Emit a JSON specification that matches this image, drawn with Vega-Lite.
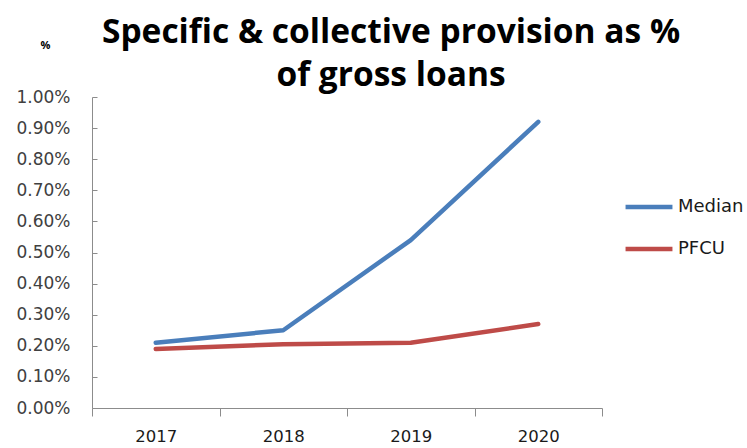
{
  "$schema": "https://vega.github.io/schema/vega-lite/v6.json",
  "autosize": "none",
  "width": 510,
  "height": 311,
  "padding": {"left": 92, "top": 97, "right": 145, "bottom": 40},
  "background": "white",
  "title": {
    "text": ["Specific & collective provision as %", "of gross loans"],
    "font": "Open Sans",
    "fontSize": 33.5,
    "fontWeight": "bold",
    "color": "#000000",
    "anchor": "middle",
    "frame": "group",
    "dx": 44,
    "dy": 64,
    "offset": 10,
    "lineHeight": 43
  },
  "data": {
    "values": [
      {"year": "2017", "series": "Median", "value": 0.0021},
      {"year": "2018", "series": "Median", "value": 0.0025},
      {"year": "2019", "series": "Median", "value": 0.0054},
      {"year": "2020", "series": "Median", "value": 0.0092},
      {"year": "2017", "series": "PFCU", "value": 0.0019},
      {"year": "2018", "series": "PFCU", "value": 0.00205},
      {"year": "2019", "series": "PFCU", "value": 0.0021},
      {"year": "2020", "series": "PFCU", "value": 0.0027}
    ]
  },
  "mark": {"type": "line", "strokeWidth": 4.5, "strokeCap": "round", "strokeJoin": "round"},
  "encoding": {
    "x": {
      "field": "year",
      "type": "nominal",
      "sort": null,
      "scale": {"type": "band", "paddingInner": 0, "paddingOuter": 0},
      "axis": {
        "title": null,
        "labelAngle": 0,
        "labelFont": "DejaVu Sans",
        "labelFontSize": 16.5,
        "labelColor": "#1a1a1a",
        "labelPadding": 12,
        "tickBand": "extent",
        "tickSize": 8,
        "tickColor": "#8c8c8c",
        "domainColor": "#8c8c8c",
        "grid": false
      }
    },
    "y": {
      "field": "value",
      "type": "quantitative",
      "scale": {"domain": [0, 0.01], "nice": false},
      "axis": {
        "title": "%",
        "titleAngle": 0,
        "titleX": -52,
        "titleY": -52,
        "titleFont": "Open Sans",
        "titleFontSize": 11,
        "titleFontWeight": "bold",
        "titleColor": "#000000",
        "titleAlign": "left",
        "titleBaseline": "middle",
        "format": ".2%",
        "values": [0, 0.001, 0.002, 0.003, 0.004, 0.005, 0.006, 0.007, 0.008, 0.009, 0.01],
        "labelFont": "DejaVu Sans",
        "labelFontSize": 17,
        "labelColor": "#404040",
        "labelPadding": 27,
        "tickSize": -5,
        "tickColor": "#8c8c8c",
        "domainColor": "#8c8c8c",
        "grid": false
      }
    },
    "color": {
      "field": "series",
      "type": "nominal",
      "scale": {"domain": ["Median", "PFCU"], "range": ["#4a7ebb", "#be4b48"]},
      "legend": {
        "title": null,
        "orient": "none",
        "legendX": 531,
        "legendY": 84,
        "symbolType": "stroke",
        "symbolSize": 2200,
        "symbolStrokeWidth": 4.5,
        "labelFont": "DejaVu Sans",
        "labelFontSize": 18,
        "labelColor": "#1a1a1a",
        "rowPadding": 7,
        "labelOffset": 3
      }
    }
  },
  "config": {"view": {"stroke": null}}
}
